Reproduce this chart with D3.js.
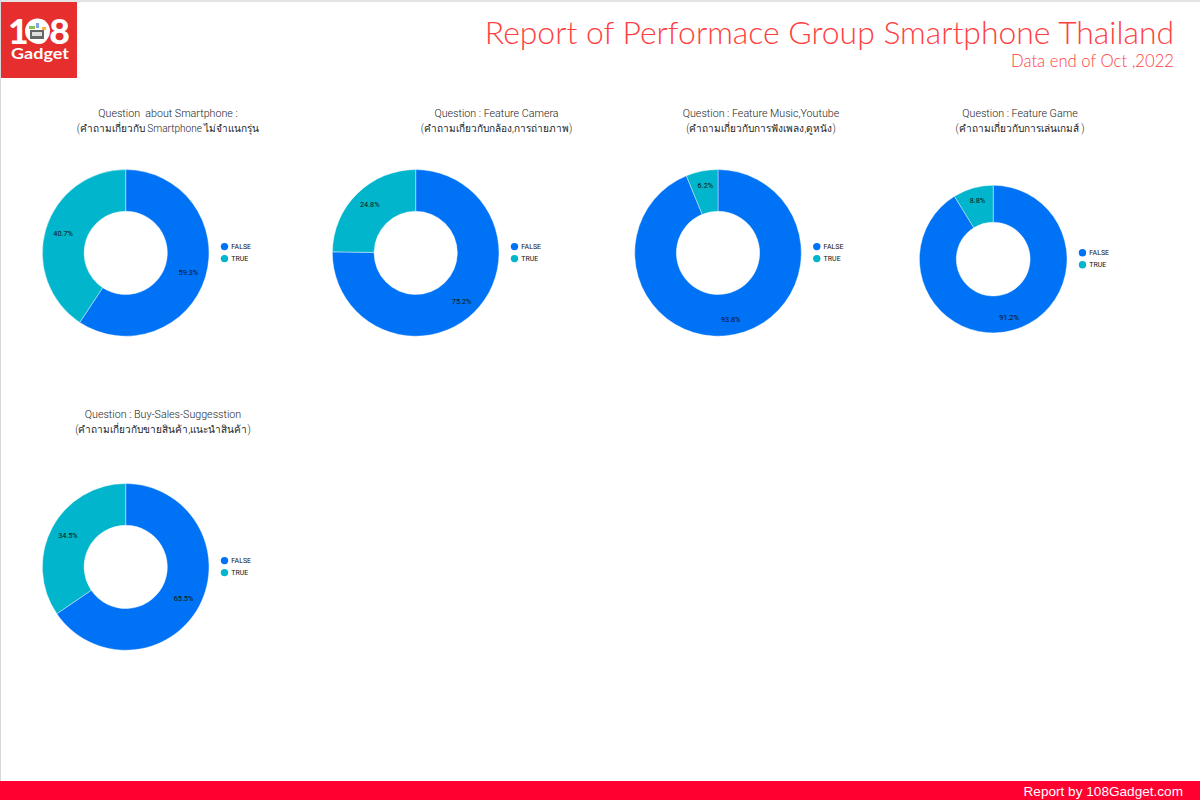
<!DOCTYPE html>
<html>
<head>
<meta charset="utf-8">
<script src="https://cdn.jsdelivr.net/npm/d3@7"></script>
<style>
  html, body { margin: 0; padding: 0; background: #fff; }
  svg { display: block; }
  text { white-space: pre; }
</style>
</head>
<body>
<svg id="chart" width="1200" height="800"></svg>
<script>
// values
var categories = ["FALSE", "TRUE"];
var falseValues = [59.3, 75.2, 93.8, 91.2, 65.5];
var trueValues = [40.7, 24.8, 6.2, 8.8, 34.5];
var titleLines = [
  ["Question  about Smartphone :", "(คำถามเกี่ยวกับ Smartphone ไม่จำแนกรุ่น"],
  ["Question : Feature Camera", "(คำถามเกี่ยวกับกล้อง,การถ่ายภาพ)"],
  ["Question : Feature Music,Youtube", "(คำถามเกี่ยวกับการฟังเพลง,ดูหนัง)"],
  ["Question : Feature Game", "(คำถามเกี่ยวกับการเล่นเกมส์ )"],
  ["Question : Buy-Sales-Suggesstion", "(คำถามเกี่ยวกับขายสินค้า,แนะนำสินค้า)"]
];

// layout of each donut
var centerX = [125.7, 415.7, 718, 993.2, 125.7];
var centerY = [252.9, 252.9, 252.9, 259.1, 566.9];
var outerR = [83.3, 83.3, 83.3, 73.8, 83.3];
var titleX = [168, 496.5, 761, 1020, 163];
var titleY = [117, 117, 117, 117, 418];

var color = d3.scaleOrdinal().domain(categories).range(["#0072f5", "#00b5cc"]);
var svg = d3.select("#chart");
var bodyFont = "Roboto, sans-serif";
var thaiFont = "Roboto, 'Noto Sans', sans-serif";

// page frame
svg.append("rect").attr("width", 1200).attr("height", 2).attr("fill", "#e4e4e4");
svg.append("rect").attr("width", 1).attr("height", 800).attr("fill", "#d8d8d8");

// logo
svg.append("rect").attr("x", 1).attr("y", 2).attr("width", 76).attr("height", 76).attr("fill", "#e62e2e");
svg.append("text").attr("x", 39).attr("y", 43.5).attr("text-anchor", "middle")
  .attr("textLength", 62).attr("lengthAdjust", "spacingAndGlyphs")
  .attr("font-family", "Lato, sans-serif").attr("font-weight", 900).attr("font-size", 35)
  .attr("fill", "#fff").text("108");
svg.append("circle").attr("cx", 37.5).attr("cy", 31).attr("r", 12.5).attr("fill", "#fff");
svg.append("rect").attr("x", 30).attr("y", 30).attr("width", 14).attr("height", 9).attr("fill", "#666");
svg.append("rect").attr("x", 32).attr("y", 32).attr("width", 10).attr("height", 4).attr("fill", "#ddd");
svg.append("rect").attr("x", 29).attr("y", 26).attr("width", 6).attr("height", 3).attr("fill", "#8cc152");
svg.append("rect").attr("x", 42).attr("y", 27).attr("width", 4).attr("height", 3).attr("fill", "#f5b942");
svg.append("rect").attr("x", 36).attr("y", 23).attr("width", 3).attr("height", 5).attr("fill", "#7fa8d8");
svg.append("text").attr("x", 40).attr("y", 59).attr("text-anchor", "middle")
  .attr("textLength", 58).attr("lengthAdjust", "spacingAndGlyphs")
  .attr("font-family", "Lato, sans-serif").attr("font-weight", 700).attr("font-size", 15)
  .attr("fill", "#fff").text("Gadget");

// header
svg.append("text").attr("x", 1174).attr("y", 44).attr("text-anchor", "end")
  .attr("font-family", "Lato, sans-serif").attr("font-weight", 300).attr("font-size", 31.9)
  .attr("fill", "#ff4040").text("Report of Performace Group Smartphone Thailand");
svg.append("text").attr("x", 1174).attr("y", 67).attr("text-anchor", "end")
  .attr("font-family", "Lato, sans-serif").attr("font-weight", 300).attr("font-size", 16.7)
  .attr("fill", "#ff4040").text("Data end of Oct ,2022");

// footer
svg.append("rect").attr("y", 781).attr("width", 1200).attr("height", 19).attr("fill", "#ff0030");
svg.append("text").attr("x", 1183).attr("y", 796).attr("text-anchor", "end")
  .attr("font-family", "'Liberation Sans', sans-serif").attr("font-size", 13.6)
  .attr("fill", "#fff").text("Report by 108Gadget.com");

var pie = d3.pie().sort(null);
var unitArc = d3.arc().outerRadius(1).innerRadius(1);

falseValues.forEach(function(v, i) {
  var values = [v, trueValues[i]];
  var R = outerR[i];
  var arc = d3.arc().outerRadius(R).innerRadius(R / 2);

  // title, two lines
  var title = svg.append("text").attr("text-anchor", "middle").attr("fill", "#1c1c1c")
    .attr("font-family", thaiFont).attr("font-weight", 300);
  titleLines[i].forEach(function(line, j) {
    title.append("tspan").attr("x", titleX[i]).attr("y", titleY[i] + j * 15)
      .attr("font-size", j == 0 ? 10.7 : 10.05).text(line);
  });

  var g = svg.append("g").attr("transform", "translate(" + centerX[i] + "," + centerY[i] + ")");
  g.selectAll("path").data(pie(values)).enter().append("path")
    .attr("d", arc)
    .attr("fill", function(d, k) { return color(categories[k]); })
    .attr("stroke", "#fff").attr("stroke-width", 0.4);

  // labels sit a little further out top and bottom than left and right
  g.selectAll("text").data(pie(values)).enter().append("text")
    .attr("transform", function(d) {
      var c = unitArc.centroid(d);
      return "translate(" + (c[0] * R * 0.785) + "," + (c[1] * R * 0.82) + ")";
    })
    .attr("text-anchor", "middle").attr("dy", "0.35em")
    .attr("font-family", bodyFont).attr("font-size", 7.3).attr("fill", "#111")
    .text(function(d) { return d.data.toFixed(1) + "%"; });

  // legend sits right of the donut
  var legend = svg.append("g").attr("transform", "translate(" + (centerX[i] + R + 15.5) + "," + (centerY[i] - 6.3) + ")");
  categories.forEach(function(c, k) {
    legend.append("circle").attr("cx", 0).attr("cy", k * 12).attr("r", 3.7).attr("fill", color(c));
    legend.append("text").attr("x", 6.8).attr("y", k * 12).attr("dy", "0.35em")
      .attr("font-family", bodyFont).attr("font-size", 7).attr("fill", "#111").text(c);
  });
});
</script>
</body>
</html>
